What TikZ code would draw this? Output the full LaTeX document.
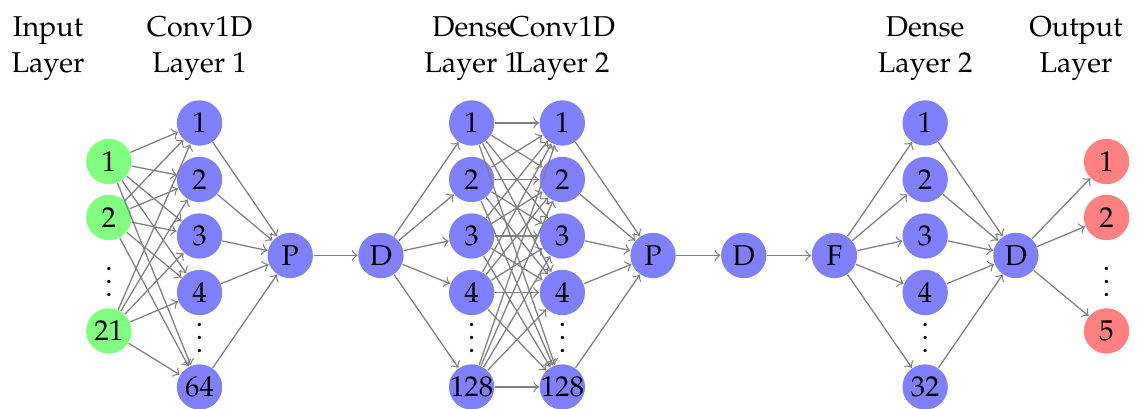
\documentclass[tikz,border=0pt]{standalone}
\usepackage[T1]{fontenc}
\usepackage{mathpazo}
\tikzset{
  neuron/.style={circle, fill=blue!50, minimum size=.5cm, inner sep=-1pt},
  inneuron/.style={neuron, fill=green!50},
  outneuron/.style={neuron, fill=red!50},
  conn/.style={->, draw=gray, line width=.4pt},
  layerlabel/.style={align=center}
}
\begin{document}
\begin{tikzpicture}[every node/.style={font=\fontsize{9}{11.2}\selectfont}]
  \useasboundingbox (0,-1.692) rectangle (12.558,2.817);
  % layers
  \node[inneuron] (in1) at (1.2,1.036) {1};
  \node[inneuron] (in2) at (1.2,.419) {2};
  \node (indots) at (1.2,-.187) {$\vdots$};
  \node[inneuron] (in3) at (1.2,-.832) {21};
  \foreach \n/\y/\t in {1/1.461/1,2/.838/2,3/.215/3,4/-.408/4,5/-1.45/64}
    \node[neuron] (ca\n) at (2.2,\y) {\t};
  \node (cadots) at (2.2,-.805) {$\vdots$};
  \node[neuron] (pa) at (3.2,0) {P};
  \node[neuron] (da) at (4.2,0) {D};
  \foreach \n/\y/\t in {1/1.461/1,2/.838/2,3/.215/3,4/-.408/4,5/-1.45/128}{
    \node[neuron] (db\n) at (5.2,\y) {\t};
    \node[neuron] (cb\n) at (6.2,\y) {\t};
  }
  \node (dbdots) at (5.2,-.805) {$\vdots$};
  \node (cbdots) at (6.2,-.805) {$\vdots$};
  \node[neuron] (pb) at (7.2,0) {P};
  \node[neuron] (dc) at (8.2,0) {D};
  \node[neuron] (fl) at (9.2,0) {F};
  \foreach \n/\y/\t in {1/1.461/1,2/.838/2,3/.215/3,4/-.408/4,5/-1.45/32}
    \node[neuron] (dd\n) at (10.2,\y) {\t};
  \node (dddots) at (10.2,-.805) {$\vdots$};
  \node[neuron] (de) at (11.2,0) {D};
  \node[outneuron] (out1) at (12.2,1.036) {1};
  \node[outneuron] (out2) at (12.2,.419) {2};
  \node (outdots) at (12.2,-.187) {$\vdots$};
  \node[outneuron] (out3) at (12.2,-.832) {5};
  % connections
  \foreach \i in {1,2,3} \foreach \j in {1,...,5} \draw[conn] (in\i) -- (ca\j);
  \foreach \j in {1,...,5} \draw[conn] (ca\j) -- (pa);
  \draw[conn] (pa) -- (da);
  \foreach \j in {1,...,5} \draw[conn] (da) -- (db\j);
  \foreach \i in {1,...,5} \foreach \j in {1,...,5} \draw[conn] (db\i) -- (cb\j);
  \foreach \j in {1,...,5} \draw[conn] (cb\j) -- (pb);
  \draw[conn] (pb) -- (dc);
  \draw[conn] (dc) -- (fl);
  \foreach \j in {1,...,5} \draw[conn] (fl) -- (dd\j);
  \foreach \j in {1,...,5} \draw[conn] (dd\j) -- (de);
  \foreach \j in {1,2,3} \draw[conn] (de) -- (out\j);
  % labels
  \node[layerlabel] (lin) at (.529,2.282) {Input\\Layer};
  \node[layerlabel] (lca) at (2.2,2.282) {Conv1D\\Layer 1};
  \node[layerlabel] (ldb) at (5.2,2.282) {Dense\\Layer 1};
  \node[layerlabel] (lcb) at (6.2,2.282) {Conv1D\\Layer 2};
  \node[layerlabel] (ldd) at (10.2,2.282) {Dense\\Layer 2};
  \node[layerlabel] (lout) at (11.863,2.282) {Output\\Layer};
\end{tikzpicture}
\end{document}
